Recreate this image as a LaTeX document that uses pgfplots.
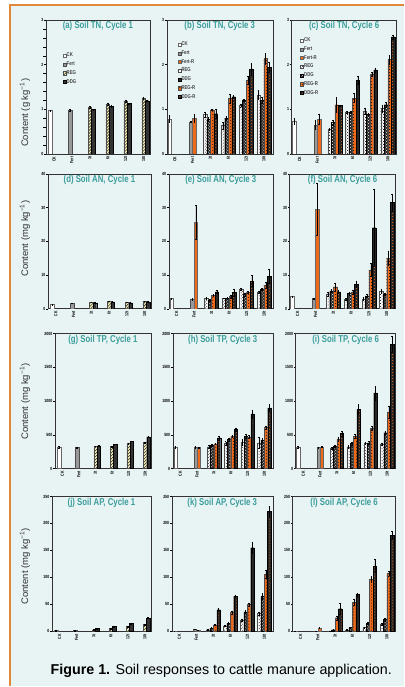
\documentclass[border=0pt]{standalone}
\usepackage{fontspec}
\setmainfont{Liberation Sans}
\newfontfamily\narrow[FakeStretch=0.78]{Liberation Sans}
\usepackage{pgfplots}
\pgfplotsset{compat=1.18}
\usepackage{pgfplotstable}
\usetikzlibrary{patterns}

\definecolor{bg}{HTML}{E8F3F3}
\definecolor{framec}{HTML}{E0893A}
\definecolor{ttl}{HTML}{3A9E9C}
\definecolor{orng}{HTML}{EE6A1A}
\definecolor{cream}{HTML}{F3EDB8}

\newcommand\ticks{\narrow\bfseries\fontsize{4.5}{5}\selectfont}
\newcommand\titlef{\narrow\bfseries\fontsize{10}{11}\selectfont}
\newcommand\legf{\narrow\bfseries\fontsize{5.5}{6}\selectfont\color{black!75}}
\newcommand\labf{\fontsize{9.5}{10}\selectfont\color{black!80}}
\newcommand\capf{\fontsize{14.3}{16}\selectfont}

% cycle 1: CK, Fert, REG, DDG  (value, error)
\pgfplotstableread{
x ck cke fe fee reg rege ddg ddge
0 0.97 0.02 nan nan nan nan nan nan
1 nan nan 0.98 0.02 nan nan nan nan
2 nan nan nan nan 1.04 0.02 1.00 0.01
3 nan nan nan nan 1.11 0.03 1.06 0.02
4 nan nan nan nan 1.18 0.03 1.13 0.01
5 nan nan nan nan 1.24 0.02 1.19 0.01
}\tnone
\pgfplotstableread{
x ck cke fe fee reg rege ddg ddge
0 1.2 0.1 nan nan nan nan nan nan
1 nan nan 1.6 0.1 nan nan nan nan
2 nan nan nan nan 1.9 0.1 1.7 0.1
3 nan nan nan nan 2.2 0.1 2.0 0.1
4 nan nan nan nan 1.9 0.1 1.7 0.1
5 nan nan nan nan 2.2 0.1 2.0 0.1
}\anone
\pgfplotstableread{
x ck cke fe fee reg rege ddg ddge
0 315 10 nan nan nan nan nan nan
1 nan nan 315 8 nan nan nan nan
2 nan nan nan nan 330 5 335 5
3 nan nan nan nan 330 8 360 5
4 nan nan nan nan 370 10 405 5
5 nan nan nan nan 385 10 470 8
}\tpone
\pgfplotstableread{
x ck cke fe fee reg rege ddg ddge
0 1.5 0.3 nan nan nan nan nan nan
1 nan nan 1.5 0.3 nan nan nan nan
2 nan nan nan nan 3 0.3 5 0.5
3 nan nan nan nan 5 0.5 9 0.5
4 nan nan nan nan 9 0.8 15 1
5 nan nan nan nan 13 1 25 1
}\apone

% cycles 3 and 6: CK, Fert, Fert-R, REG, DDG, REG-R, DDG-R
\pgfplotstableread{
x ck cke fe fee fr fre reg rege ddg ddge rr rre dr dre
0 0.78 0.08 nan nan nan nan nan nan nan nan nan nan nan nan
1 nan nan 0.72 0.02 0.80 0.10 nan nan nan nan nan nan nan nan
2 nan nan nan nan nan nan 0.88 0.05 0.78 0.04 0.99 0.02 0.90 0.10
3 nan nan nan nan nan nan 0.64 0.08 0.80 0.05 1.24 0.10 1.28 0.03
4 nan nan nan nan nan nan 1.08 0.03 1.20 0.03 1.65 0.08 1.90 0.14
5 nan nan nan nan nan nan 1.32 0.10 1.20 0.06 2.14 0.12 1.94 0.12
}\tnthree
\pgfplotstableread{
x ck cke fe fee fr fre reg rege ddg ddge rr rre dr dre
0 0.73 0.06 nan nan nan nan nan nan nan nan nan nan nan nan
1 nan nan 0.65 0.10 0.78 0.12 nan nan nan nan nan nan nan nan
2 nan nan nan nan nan nan 0.55 0.02 0.70 0.05 1.10 0.17 1.08 0.02
3 nan nan nan nan nan nan 0.93 0.02 0.94 0.02 1.25 0.10 1.65 0.08
4 nan nan nan nan nan nan 0.96 0.06 0.88 0.03 1.78 0.04 1.88 0.05
5 nan nan nan nan nan nan 1.02 0.08 1.10 0.05 2.12 0.10 2.62 0.05
}\tnsix
\pgfplotstableread{
x ck cke fe fee fr fre reg rege ddg ddge rr rre dr dre
0 3.0 0.2 nan nan nan nan nan nan nan nan nan nan nan nan
1 nan nan 2.8 0.2 25.7 5.0 nan nan nan nan nan nan nan nan
2 nan nan nan nan nan nan 3.2 0.3 2.6 0.3 4.0 0.3 5.0 0.5
3 nan nan nan nan nan nan 3.1 0.1 3.1 0.3 3.6 0.5 4.8 1.0
4 nan nan nan nan nan nan 5.8 0.4 4.2 0.5 4.8 0.3 8.2 1.6
5 nan nan nan nan nan nan 4.8 0.3 5.8 0.3 7.0 1.0 9.6 2.0
}\anthree
\pgfplotstableread{
x ck cke fe fee fr fre reg rege ddg ddge rr rre dr dre
0 3.6 0.2 nan nan nan nan nan nan nan nan nan nan nan nan
1 nan nan 3.0 0.2 29.5 7.7 nan nan nan nan nan nan nan nan
2 nan nan nan nan nan nan 4.3 0.6 5.3 0.5 6.5 1.2 5.0 0.4
3 nan nan nan nan nan nan 2.8 0.3 4.5 0.5 5.0 0.6 7.3 1.0
4 nan nan nan nan nan nan 2.9 0.5 3.8 0.4 11.5 2.0 24.0 11.5
5 nan nan nan nan nan nan 5.2 0.6 4.3 0.4 15.0 2.2 31.5 2.5
}\ansix
\pgfplotstableread{
x ck cke fe fee fr fre reg rege ddg ddge rr rre dr dre
0 320 15 nan nan nan nan nan nan nan nan nan nan nan nan
1 nan nan 320 15 310 8 nan nan nan nan nan nan nan nan
2 nan nan nan nan nan nan 320 20 345 15 365 10 455 30
3 nan nan nan nan nan nan 370 30 430 25 480 20 580 25
4 nan nan nan nan nan nan 390 40 480 30 470 20 810 60
5 nan nan nan nan nan nan 380 80 420 30 610 20 900 55
}\tpthree
\pgfplotstableread{
x ck cke fe fee fr fre reg rege ddg ddge rr rre dr dre
0 310 15 nan nan nan nan nan nan nan nan nan nan nan nan
1 nan nan 310 10 320 10 nan nan nan nan nan nan nan nan
2 nan nan nan nan nan nan 300 15 330 20 440 30 520 40
3 nan nan nan nan nan nan 320 20 370 20 480 25 880 80
4 nan nan nan nan nan nan 370 15 380 20 600 30 1120 100
5 nan nan nan nan nan nan 360 20 530 30 840 90 1840 120
}\tpsix
\pgfplotstableread{
x ck cke fe fee fr fre reg rege ddg ddge rr rre dr dre
0 0.5 0.2 nan nan nan nan nan nan nan nan nan nan nan nan
1 nan nan 4 0.5 2 0.3 nan nan nan nan nan nan nan nan
2 nan nan nan nan nan nan 3 0.5 6 1 12 1 40 3
3 nan nan nan nan nan nan 10 1 15 2 35 3 65 2
4 nan nan nan nan nan nan 21 2 36 3 50 3 155 10
5 nan nan nan nan nan nan 33 3 65 5 106 8 222 10
}\apthree
\pgfplotstableread{
x ck cke fe fee fr fre reg rege ddg ddge rr rre dr dre
0 0.5 0.1 nan nan nan nan nan nan nan nan nan nan nan nan
1 nan nan 0.5 0.1 6 0.8 nan nan nan nan nan nan nan nan
2 nan nan nan nan nan nan 1 0.2 3 0.5 25 4 42 11
3 nan nan nan nan nan nan 3 0.5 7 1 54 5 68 3
4 nan nan nan nan nan nan 7 1 15 2 97 5 121 12
5 nan nan nan nan nan nan 13 2 22 3 107 4 178 8
}\apsix

\pgfplotsset{
  sq legend/.style={legend image code/.code={\draw[##1] (0pt,-1.6pt) rectangle (3.2pt,1.6pt);}},
  bar/.style={ybar, bar width=0.2, line width=0.3pt, sq legend,
    /pgfplots/error bars/y dir=both,
    /pgfplots/error bars/y explicit,
    /pgfplots/error bars/error bar style={line width=0.3pt, black},
    /pgfplots/error bars/error mark options={rotate=90, mark size=0.8pt, line width=0.3pt, black}},
  ckbar/.style={bar, fill=white, draw=black!60},
  fertbar/.style={bar, fill=black!40, draw=black!70},
  frbar/.style={bar, fill=orng, draw=black!60},
  reg1bar/.style={bar, fill=cream, draw=black!70, postaction={pattern=north east lines, pattern color=black}},
  ddg1bar/.style={bar, fill=black!80, draw=black},
  regbar/.style={bar, fill=white, draw=black!70, postaction={pattern=crosshatch dots, pattern color=black}},
  ddgbar/.style={bar, fill=black!85, draw=black, postaction={pattern=crosshatch dots, pattern color=white}},
  rrbar/.style={bar, fill=orng, draw=black!70, postaction={pattern=dots, pattern color=black}},
  drbar/.style={bar, fill=black!85, draw=black, postaction={pattern=dots, pattern color=orng}},
  panel/.style={
    scale only axis, anchor=south west, ymin=0,
    axis line style={black!80, line width=0.4pt},
    xtick={0,...,5}, xticklabels={CK,Fert,3t,6t,12t,18t},
    xtick style={draw=none},
    tick pos=left, tick align=outside, major tick length=1.5pt,
    ytick style={black, line width=0.3pt},
    x tick label style={rotate=90, anchor=east, font=\ticks, inner sep=1pt},
    y tick label style={font=\ticks, inner sep=1pt},
    /pgf/number format/assume math mode=true,
    /pgf/number format/1000 sep={},
    scaled y ticks=false,
    title style={at={(0.5,1)}, anchor=north, yshift=-4pt, font=\titlef, text=ttl},
  },
  one/.style={panel, xmin=-0.45, xmax=5.35},
  many/.style={panel, xmin=-0.45, xmax=5.5},
  rtn/.style={height=134pt, ymax=3, ytick={0,1,2,3}},
  ran/.style={height=135pt, ymax=40, ytick={0,10,...,40}},
  rtp/.style={height=135pt, ymax=2000, ytick={0,500,...,2000}},
  rap/.style={height=135pt, ymax=250, ytick={0,50,...,250}},
  leg/.style={legend cell align=left,
    legend style={at={(#1)}, anchor=north west, draw=none, fill=none,
      font=\legf, row sep=2.6pt, inner sep=0pt, nodes={inner sep=0.4pt}}},
}

% bars sit at category position + offset (in category units)
\newcommand\cycleone[1]{%
  \addplot[ckbar] table[x expr=\thisrow{x}-0.2, y=ck, y error=cke]{#1};
  \addplot[fertbar] table[x expr=\thisrow{x}-0.1, y=fe, y error=fee]{#1};
  \addplot[reg1bar] table[x expr=\thisrow{x}, y=reg, y error=rege]{#1};
  \addplot[ddg1bar] table[x expr=\thisrow{x}+0.2, y=ddg, y error=ddge]{#1};
}
\newcommand\cyclemany[1]{%
  \addplot[ckbar] table[x expr=\thisrow{x}-0.3, y=ck, y error=cke]{#1};
  \addplot[fertbar] table[x expr=\thisrow{x}-0.1, y=fe, y error=fee]{#1};
  \addplot[frbar] table[x expr=\thisrow{x}+0.1, y=fr, y error=fre]{#1};
  \addplot[regbar] table[x expr=\thisrow{x}-0.3, y=reg, y error=rege]{#1};
  \addplot[ddgbar] table[x expr=\thisrow{x}-0.1, y=ddg, y error=ddge]{#1};
  \addplot[rrbar] table[x expr=\thisrow{x}+0.1, y=rr, y error=rre]{#1};
  \addplot[drbar] table[x expr=\thisrow{x}+0.3, y=dr, y error=dre]{#1};
}

\begin{document}
\begin{tikzpicture}[x=1pt, y=1pt]
\fill[white] (0,0) rectangle (404,687);
\fill[bg] (10,0) rectangle (404,682);
\draw[framec, line width=1.5pt] (10,0) -- (10,682) -- (404,682);
\useasboundingbox (0,0) rectangle (404,687);

% row 1: soil TN
\begin{axis}[one, rtn, at={(46pt,533pt)}, width=104pt, minor y tick num=4,
  title={(a) Soil TN, Cycle 1}, leg={0.16,0.757}, legend entries={CK,Fert,REG,DDG}]
\cycleone{\tnone}
\end{axis}
\begin{axis}[many, rtn, at={(167pt,533pt)}, width=106pt,
  title={(b) Soil TN, Cycle 3}, leg={0.1,0.84},
  legend entries={CK,Fert,Fert-R,REG,DDG,REG-R,DDG-R}]
\cyclemany{\tnthree}
\end{axis}
\begin{axis}[many, rtn, at={(292pt,533pt)}, width=105pt,
  title={(c) Soil TN, Cycle 6}, leg={0.08,0.87},
  legend entries={CK,Fert,Fert-R,REG,DDG,REG-R,DDG-R}]
\cyclemany{\tnsix}
\end{axis}

% row 2: soil AN
\begin{axis}[one, ran, at={(48pt,378pt)}, width=103pt, title={(d) Soil AN, Cycle 1}]
\cycleone{\anone}
\end{axis}
\begin{axis}[many, ran, at={(169pt,378pt)}, width=104pt, title={(e) Soil AN, Cycle 3}]
\cyclemany{\anthree}
\end{axis}
\begin{axis}[many, ran, at={(290pt,378pt)}, width=106pt, title={(f) Soil AN, Cycle 6}]
\cyclemany{\ansix}
\end{axis}

% row 3: soil TP
\begin{axis}[one, rtp, at={(55pt,218pt)}, width=96pt, title={(g) Soil TP, Cycle 1}]
\cycleone{\tpone}
\end{axis}
\begin{axis}[many, rtp, at={(173pt,218pt)}, width=100pt, title={(h) Soil TP, Cycle 3}]
\cyclemany{\tpthree}
\end{axis}
\begin{axis}[many, rtp, at={(296pt,218pt)}, width=100pt, title={(i) Soil TP, Cycle 6}]
\cyclemany{\tpsix}
\end{axis}

% row 4: soil AP
\begin{axis}[one, rap, at={(52pt,55pt)}, width=99pt, title={(j) Soil AP, Cycle 1}]
\cycleone{\apone}
\end{axis}
\begin{axis}[many, rap, at={(172pt,55pt)}, width=101pt, title={(k) Soil AP, Cycle 3}]
\cyclemany{\apthree}
\end{axis}
\begin{axis}[many, rap, at={(293pt,55pt)}, width=103pt, title={(l) Soil AP, Cycle 6}]
\cyclemany{\apsix}
\end{axis}

\node[rotate=90, font=\labf] at (25,574) {Content (g kg\textsuperscript{−1})};
\node[rotate=90, font=\labf] at (25,448) {Content (mg kg\textsuperscript{−1})};
\node[rotate=90, font=\labf] at (25,285) {Content (mg kg\textsuperscript{−1})};
\node[rotate=90, font=\labf] at (25,120) {Content (mg kg\textsuperscript{−1})};

\node[font=\capf] at (221.5,15)
  {\textbf{Figure 1.} Soil responses to cattle manure application.};
\end{tikzpicture}
\end{document}
